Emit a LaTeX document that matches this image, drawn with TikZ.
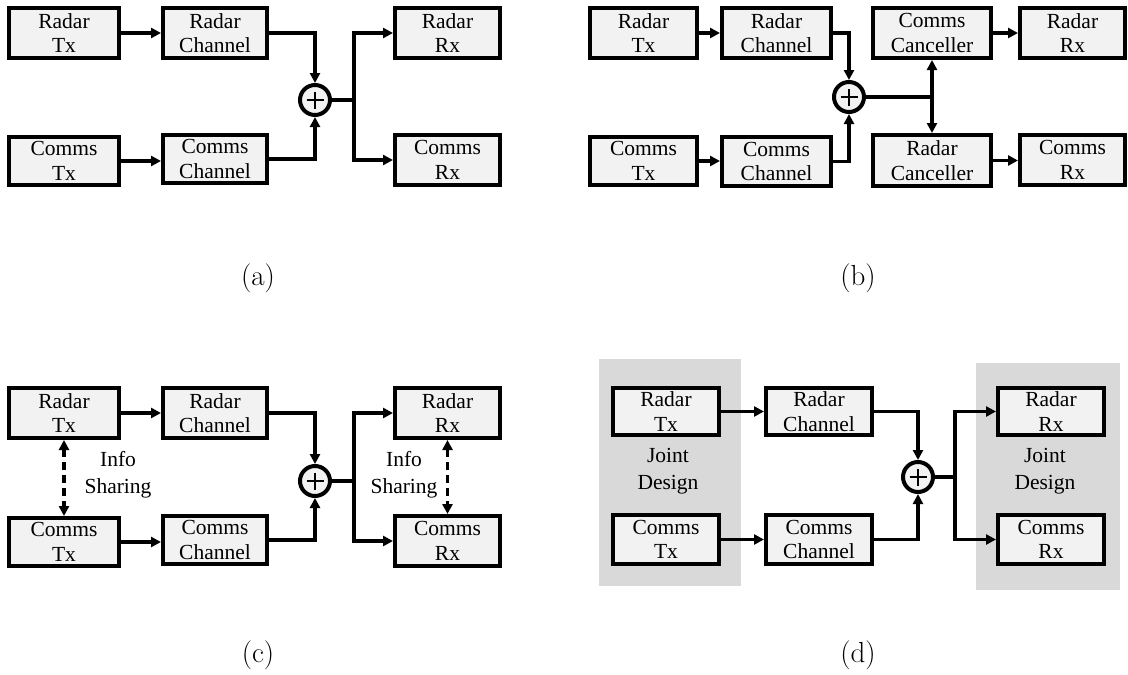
\documentclass[tikz,border=0pt]{standalone}
\usepackage{fontspec}
\setmainfont{Liberation Serif}
\newfontfamily\lmr{Latin Modern Roman}
\usetikzlibrary{arrows.meta}
\definecolor{boxfill}{HTML}{F2F2F2}
\definecolor{panelgray}{HTML}{D9D9D9}
\tikzset{
  blk/.style={draw, line width=4pt, fill=boxfill, inner sep=0pt, align=center,
    font=\rmfamily\fontsize{21.5}{24.5}\selectfont, minimum width=106pt, minimum height=50pt},
  sum/.style={circle, draw, line width=4pt, fill=boxfill, minimum size=30pt, inner sep=0pt,
    path picture={\draw[line width=2.6pt]
      ([xshift=-8.5pt]path picture bounding box.center) -- ([xshift=8.5pt]path picture bounding box.center)
      ([yshift=-8.5pt]path picture bounding box.center) -- ([yshift=8.5pt]path picture bounding box.center);}},
  ln/.style={line width=3.4pt},
  arr/.style={ln, -{Triangle[length=10pt,width=10pt]}},
  dbl/.style={ln, {Triangle[length=10pt,width=10pt]}-{Triangle[length=10pt,width=10pt]}},
  dshd/.style={line width=3.8pt, dash pattern=on 8pt off 5pt,
    {Triangle[length=10pt,width=10pt]}-{Triangle[length=10pt,width=10pt]}},
  note/.style={align=center, font=\rmfamily\fontsize{21.5}{27}\selectfont, inner sep=0pt},
  sublabel/.style={font=\lmr\fontsize{29}{35}\selectfont, inner sep=0pt},
}
\begin{document}
\begin{tikzpicture}[x=1pt, y=-1pt]
\useasboundingbox (0,0) rectangle (1128,675);

% ---------- (a) shared channel ----------
\node[blk, minimum width=110pt] (aRTx) at (64,33) {Radar\\Tx};
\node[blk, minimum width=104pt] (aRCh) at (215,33) {Radar\\Channel};
\node[blk, minimum width=105pt] (aRRx) at (447.5,33) {Radar\\Rx};
\node[blk, minimum width=110pt, minimum height=48pt] (aCTx) at (64,161) {Comms\\Tx};
\node[blk, minimum width=104pt, minimum height=48pt] (aCCh) at (215,159) {Comms\\Channel};
\node[blk, minimum width=105pt] (aCRx) at (447.5,160) {Comms\\Rx};
\node[sum] (aS) at (315,100) {};
\coordinate (aJ) at (354,100);
\draw[arr] (aRTx.east) -- (aRTx.east -| aRCh.west);
\draw[arr] (aCTx.east) -- (aCTx.east -| aCCh.west);
\draw[arr] (aRCh.east) -| (aS.north);
\draw[arr] (aCCh.east) -| (aS.south);
\draw[ln] (aS.east) -- (aJ);
\draw[arr] (aJ) |- (aRRx.west);
\draw[arr] (aJ) |- (aCRx.west);
\node[sublabel] (capa) at (258,278) {(a)};

% ---------- (b) interference cancellation ----------
\node[blk, minimum width=107pt] (bRTx) at (643.5,33) {Radar\\Tx};
\node[blk, minimum width=109pt] (bRCh) at (776.5,33) {Radar\\Channel};
\node[blk, minimum width=118pt] (bCCan) at (932,33) {Comms\\Canceller};
\node[blk, minimum width=105pt] (bRRx) at (1072.5,33) {Radar\\Rx};
\node[blk, minimum width=107pt, minimum height=48pt] (bCTx) at (643.5,161) {Comms\\Tx};
\node[blk, minimum width=109pt, minimum height=49pt] (bCCh) at (776.5,161.5) {Comms\\Channel};
\node[blk, minimum width=118pt, minimum height=51pt] (bRCan) at (932,160.5) {Radar\\Canceller};
\node[blk, minimum width=105pt] (bCRx) at (1072.5,160) {Comms\\Rx};
\node[sum] (bS) at (849,97) {};
\draw[arr] (bRTx.east) -- (bRTx.east -| bRCh.west);
\draw[arr] (bCTx.east) -- (bCTx.east -| bCCh.west);
\draw[arr] (bRCh.east) -| (bS.north);
\draw[arr] (bCCh.east) -| (bS.south);
\draw[ln] (bS.east) -- (bS.east -| bCCan.south);
\draw[dbl] (bCCan.south) -- (bRCan.north);
\draw[arr] (bCCan.east) -- (bCCan.east -| bRRx.west);
\draw[arr] (bRCan.east) -- (bRCan.east -| bCRx.west);
\node[sublabel] (capb) at (858,278) {(b)};

% ---------- (c) information sharing ----------
\node[blk, minimum width=110pt] (cRTx) at (64,413) {Radar\\Tx};
\node[blk, minimum width=104pt] (cRCh) at (215,413) {Radar\\Channel};
\node[blk, minimum width=105pt] (cRRx) at (447.5,413) {Radar\\Rx};
\node[blk, minimum width=110pt, minimum height=48pt] (cCTx) at (64,542) {Comms\\Tx};
\node[blk, minimum width=104pt, minimum height=48pt] (cCCh) at (215,540) {Comms\\Channel};
\node[blk, minimum width=105pt] (cCRx) at (447.5,541) {Comms\\Rx};
\node[sum] (cS) at (315,481) {};
\coordinate (cJ) at (354,481);
\draw[arr] (cRTx.east) -- (cRTx.east -| cRCh.west);
\draw[arr] (cCTx.east) -- (cCTx.east -| cCCh.west);
\draw[arr] (cRCh.east) -| (cS.north);
\draw[arr] (cCCh.east) -| (cS.south);
\draw[ln] (cS.east) -- (cJ);
\draw[arr] (cJ) |- (cRRx.west);
\draw[arr] (cJ) |- (cCRx.west);
\draw[dshd] (cRTx.south) -- (cCTx.north);
\draw[dshd] (cRRx.south) -- (cCRx.north);
\node[note] (cInfoL) at (118,475) {Info\\Sharing};
\node[note] (cInfoR) at (404,475) {Info\\Sharing};
\node[sublabel] (capc) at (258,655) {(c)};

% ---------- (d) joint design ----------
\fill[panelgray] (599,359) rectangle (741,586);
\fill[panelgray] (976,363) rectangle (1120,590);
\node[blk, minimum width=106pt, minimum height=47pt] (dRTx) at (666,411.5) {Radar\\Tx};
\node[blk, minimum width=106pt, minimum height=47pt] (dRCh) at (819,411.5) {Radar\\Channel};
\node[blk, minimum width=106pt, minimum height=47pt] (dRRx) at (1051,411.5) {Radar\\Rx};
\node[blk, minimum width=106pt, minimum height=49pt] (dCTx) at (666,539.5) {Comms\\Tx};
\node[blk, minimum width=106pt, minimum height=49pt] (dCCh) at (819,539.5) {Comms\\Channel};
\node[blk, minimum width=106pt, minimum height=49pt] (dCRx) at (1051,539.5) {Comms\\Rx};
\node[sum] (dS) at (918,477) {};
\coordinate (dJ) at (955,477);
\draw[arr] (dRTx.east) -- (dRTx.east -| dRCh.west);
\draw[arr] (dCTx.east) -- (dCTx.east -| dCCh.west);
\draw[arr] (dRCh.east) -| (dS.north);
\draw[arr] (dCCh.east) -| (dS.south);
\draw[ln] (dS.east) -- (dJ);
\draw[arr] (dJ) |- (dRRx.west);
\draw[arr] (dJ) |- (dCRx.west);
\node[note] (dJointL) at (668,471) {Joint\\Design};
\node[note] (dJointR) at (1045,471) {Joint\\Design};
\node[sublabel] (capd) at (858,655) {(d)};
\end{tikzpicture}
\end{document}
